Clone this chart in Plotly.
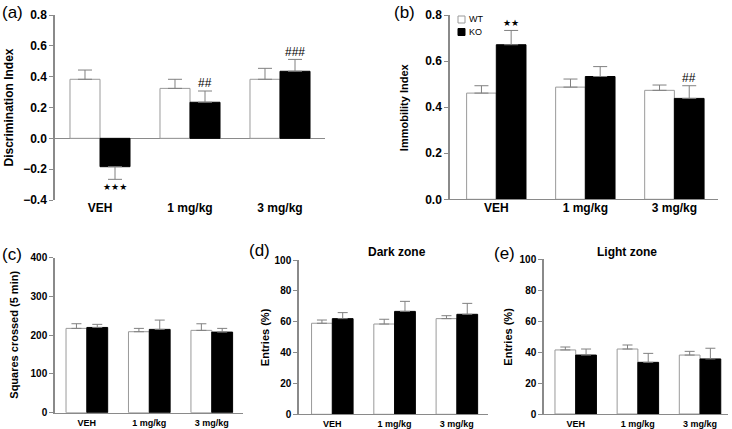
import plotly.graph_objects as go

W, H = 732, 429
groups = ["VEH", "1 mg/kg", "3 mg/kg"]
series_names = ["WT", "KO"]

# (a) Discrimination index
a_wt = [0.383, 0.324, 0.383]
a_wt_sem = [0.060, 0.059, 0.071]
a_ko = [-0.184, 0.234, 0.435]
a_ko_sem = [0.082, 0.073, 0.077]
a_marks = ["★★★", "##", "###"]

# (b) Immobility index
b_wt = [0.461, 0.487, 0.473]
b_wt_sem = [0.032, 0.035, 0.023]
b_ko = [0.671, 0.533, 0.438]
b_ko_sem = [0.062, 0.043, 0.055]
b_marks = ["★★", "", "##"]

# (c) Squares crossed
c_wt = [217.6, 209.0, 212.5]
c_wt_sem = [12.0, 8.6, 17.0]
c_ko = [220.0, 215.0, 208.0]
c_ko_sem = [8.0, 24.0, 9.6]

# (d) Dark zone entries
d_wt = [59.0, 58.5, 62.0]
d_wt_sem = [2.1, 3.1, 1.9]
d_ko = [62.0, 66.7, 64.8]
d_ko_sem = [3.9, 6.5, 7.1]

# (e) Light zone entries
e_wt = [41.4, 42.0, 38.1]
e_wt_sem = [1.9, 2.6, 2.4]
e_ko = [38.1, 33.4, 35.6]
e_ko_sem = [3.9, 5.8, 6.9]

FONT = "Liberation Sans, Arial, sans-serif"
AX_GRAY = "#8a8a8a"
ERR_GRAY = "#808080"
WT_LINE = "#9a9a9a"

fig = go.Figure()


def err(vals, sem, cap):
    plus = [s if v >= 0 else 0 for v, s in zip(vals, sem)]
    minus = [s if v < 0 else 0 for v, s in zip(vals, sem)]
    return dict(type="data", array=plus, arrayminus=minus, symmetric=False,
                color=ERR_GRAY, thickness=1, width=cap)


panels = [
    ("x", "y", a_wt, a_wt_sem, a_ko, a_ko_sem, 7),
    ("x2", "y2", b_wt, b_wt_sem, b_ko, b_ko_sem, 7),
    ("x3", "y3", c_wt, c_wt_sem, c_ko, c_ko_sem, 5),
    ("x4", "y4", d_wt, d_wt_sem, d_ko, d_ko_sem, 5),
    ("x5", "y5", e_wt, e_wt_sem, e_ko, e_ko_sem, 5),
]

for xa, ya, wt, wts, ko, kos, cap in panels:
    fig.add_trace(go.Bar(x=groups, y=wt, name=series_names[0], xaxis=xa, yaxis=ya,
                         marker=dict(color="white", line=dict(color=WT_LINE, width=1)),
                         error_y=err(wt, wts, cap), showlegend=False))
    fig.add_trace(go.Bar(x=groups, y=ko, name=series_names[1], xaxis=xa, yaxis=ya,
                         marker=dict(color="black", line=dict(color="black", width=1)),
                         error_y=err(ko, kos, cap), showlegend=False))


def px_x(a, b):
    return [a / W, b / W]


def px_y(top, bottom):
    return [1 - bottom / H, 1 - top / H]


cfg = [
    # xdomain, xrange, ydomain(top,bottom px), yrange, dtick, title, title size, ytick size, xtick size, title x px, xlabel shift
    (px_x(55, 325), [-0.5, 2.5], (15, 200), [-0.4, 0.8], 0.2, "Discrimination Index", 12, 12, 12, 8, -1),
    (px_x(450, 718), [-0.52, 2.49], (15, 199.3), [0, 0.8], 0.2, "Immobility Index", 11, 12, 12, 404, -3),
    (px_x(55, 243), [-0.51, 2.5], (257.7, 412.7), [0, 400], 100, "Squares crossed (5 min)", 11, 10, 9, 14.5, 1),
    (px_x(299, 488), [-0.535, 2.5], (260, 414.3), [0, 100], 20, "Entries (%)", 11, 10, 9, 265, 1),
    (px_x(544, 728), [-0.51, 2.45], (259.3, 414), [0, 100], 20, "Entries (%)", 11, 10, 9, 508, 1),
]

layout = {}
annotations = []
for k, (xd, xr, (ytop, ybot), yr, dt, title, tsz, ytsz, xtsz, tx, shift) in enumerate(cfg):
    n = "" if k == 0 else str(k + 1)
    layout["xaxis" + n] = dict(domain=xd, range=xr, anchor="y" + n, type="category",
                               showline=(k != 0), linecolor=AX_GRAY, linewidth=1,
                               ticks="", showgrid=False, zeroline=False, automargin=False,
                               ticklabelstandoff=shift,
                               tickfont=dict(family=FONT, size=xtsz, color="black", weight="bold"))
    layout["yaxis" + n] = dict(domain=px_y(ytop, ybot), range=yr, anchor="x" + n, dtick=dt, tick0=yr[0],
                               tickformat=".1f" if dt < 1 else "d", automargin=False,
                               showline=True, linecolor=AX_GRAY, linewidth=1.5,
                               ticks="outside", ticklen=4, tickcolor=AX_GRAY, tickwidth=1,
                               showgrid=False,
                               zeroline=(k == 0), zerolinecolor=AX_GRAY, zerolinewidth=1,
                               tickfont=dict(family=FONT, size=ytsz, color="black", weight="bold"))
    annotations.append(dict(x=tx / W, y=1 - (ytop + ybot) / 2 / H, xref="paper", yref="paper",
                            text=title, textangle=-90, showarrow=False,
                            xanchor="center", yanchor="middle",
                            font=dict(family=FONT, size=tsz, color="black", weight="bold")))

for xref, yref, ko, kos, marks, gap in [("x", "y", a_ko, a_ko_sem, a_marks, 0.05),
                                        ("x2", "y2", b_ko, b_ko_sem, b_marks, 0.032)]:
    for i, (v, s, m) in enumerate(zip(ko, kos, marks)):
        if not m:
            continue
        star = "★" in m
        yv = v + s + gap if v >= 0 else v - s - gap
        annotations.append(dict(x=i + 1 / 6, y=yv, xref=xref, yref=yref, text=m,
                                showarrow=False,
                                font=dict(family="DejaVu Sans" if star else FONT,
                                          size=9 if star else 12, color="black")))

for txt, x, y in [("(a)", 0, 12), ("(b)", 392, 12), ("(c)", 0, 254), ("(d)", 247, 251), ("(e)", 492, 253)]:
    annotations.append(dict(x=x / W, y=1 - y / H, xref="paper", yref="paper", text=txt,
                            showarrow=False, xanchor="left", yanchor="middle",
                            font=dict(family=FONT, size=17, color="black")))

for txt, x, y in [("Dark zone", 396.7, 252), ("Light zone", 626.7, 252)]:
    annotations.append(dict(x=x / W, y=1 - y / H, xref="paper", yref="paper", text=txt,
                            showarrow=False, xanchor="center", yanchor="middle",
                            font=dict(family=FONT, size=12, color="black", weight="bold")))

# legend for panel (b)
shapes = []
for name, fill, line, yc in [(series_names[0], "white", WT_LINE, 19.5),
                             (series_names[1], "black", "black", 32)]:
    shapes.append(dict(type="rect", xref="paper", yref="paper",
                       x0=458 / W, x1=465 / W, y0=1 - (yc + 3.5) / H, y1=1 - (yc - 3.5) / H,
                       fillcolor=fill, line=dict(color=line, width=1)))
    annotations.append(dict(x=467 / W, y=1 - yc / H, xref="paper", yref="paper", text=name,
                            showarrow=False, xanchor="left", yanchor="middle",
                            font=dict(family=FONT, size=9, color="black")))

fig.update_layout(**layout)
fig.update_layout(
    width=W, height=H,
    margin=dict(l=0, r=0, t=0, b=0, pad=0, autoexpand=False),
    paper_bgcolor="white", plot_bgcolor="white",
    barmode="group", bargap=0.333, bargroupgap=0,
    annotations=annotations, shapes=shapes,
    showlegend=False,
    font=dict(family=FONT),
)

fig.write_html("out.html", config={"displayModeBar": False},
               post_script="document.body.style.margin='0';document.body.style.overflow='hidden';")
